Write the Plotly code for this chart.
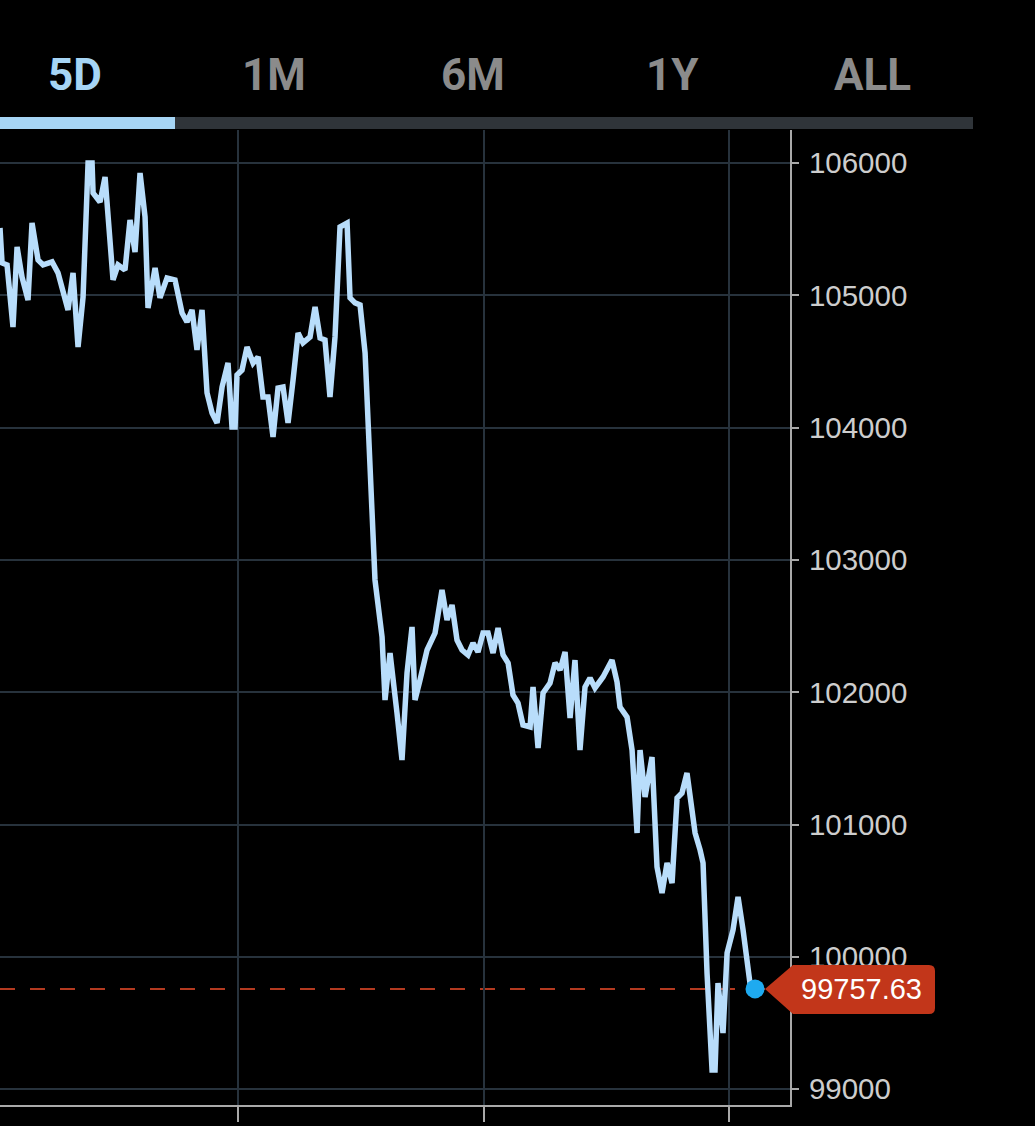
"""
5D price chart - dark theme line with last price tag
"""

import pandas as pd
import plotly.graph_objects as go

# hours after the session start (Jun 19 00:00) and traded price
hours = [
    0.73, 0.93, 1.42, 2.00, 2.40, 2.88, 3.47, 3.86, 4.45, 4.94,
    5.82, 6.40, 7.38, 7.87, 8.36, 8.85, 9.34, 9.73, 9.83, 10.51,
    11.00, 11.78, 12.27, 12.95, 13.44, 13.93, 14.42, 14.91, 15.20, 15.89,
    16.37, 17.06, 17.84, 18.53, 19.01, 19.50, 19.99, 20.48, 20.97, 21.46,
    21.95, 22.44, 23.02, 23.41, 23.71, 23.90, 24.39, 24.88, 25.47, 25.96,
    26.44, 26.93, 27.42, 27.91, 28.40, 28.89, 29.38, 29.87, 30.35, 31.04,
    31.53, 32.02, 32.50, 32.99, 33.48, 33.97, 34.66, 34.95, 35.44, 35.93,
    36.42, 36.71, 37.10, 37.39, 38.08, 38.37, 38.86, 39.15, 39.54, 40.03,
    40.52, 41.01, 41.30, 41.79, 42.48, 43.26, 43.94, 44.43, 44.92, 45.41,
    45.90, 46.48, 46.97, 47.46, 47.95, 48.44, 48.93, 49.42, 49.91, 50.40,
    50.88, 51.37, 51.86, 52.55, 52.84, 53.33, 53.82, 54.50, 54.99, 55.48,
    55.97, 56.46, 56.94, 57.43, 57.92, 58.41, 58.90, 59.68, 60.56, 61.05,
    61.34, 62.03, 62.52, 63.01, 63.30, 63.79, 64.47, 64.96, 65.45, 65.94,
    66.43, 66.92, 67.40, 67.89, 68.68, 69.17, 69.46, 69.85, 70.34, 70.63,
    70.92, 71.41, 71.81, 72.39, 72.88, 73.37, 74.05, 74.54,
]
prices = [
    105509, 105244, 105229, 104760, 105365, 105138, 104964, 105546, 105267, 105229,
    105252, 105169, 104889, 105169, 104609, 104987, 106000, 106000, 105773, 105705,
    105894, 105116, 105229, 105191, 105569, 105327, 105924, 105592, 104904, 105206,
    104980, 105131, 105116, 104866, 104798, 104889, 104587, 104889, 104262, 104110,
    104035, 104307, 104488, 104005, 104005, 104398, 104435, 104609, 104488, 104534,
    104231, 104231, 103929, 104299, 104307, 104035, 104360, 104715, 104640, 104685,
    104912, 104677, 104662, 104231, 104685, 105516, 105546, 104980, 104942, 104927,
    104564, 104057, 103302, 102848, 102417, 101941, 102296, 102069, 101843, 101487,
    102145, 102493, 101941, 102092, 102319, 102447, 102772, 102546, 102659, 102394,
    102319, 102281, 102372, 102304, 102447, 102447, 102296, 102485, 102281, 102221,
    101979, 101918, 101752, 101737, 102039, 101578, 101994, 102069, 102221, 102168,
    102304, 101805, 102243, 101563, 102039, 102107, 102032, 102115, 102243, 102077,
    101888, 101812, 101563, 100936, 101563, 101208, 101510, 100679, 100482, 100709,
    100558, 101200, 101238, 101389, 100936, 100807, 100709, 99877, 99144, 99144,
    99802, 99424, 100029, 100203, 100452, 100203, 99800, 99757.63,
]

y_ticks = [99000, 100000, 101000, 102000, 103000, 104000, 105000, 106000]
tabs = ["5D", "1M", "6M", "1Y", "ALL"]
active_tab = "5D"

START = pd.Timestamp("2025-06-19 00:00")
times = START + pd.to_timedelta(hours, unit="h")
last_t, last_p = times[-1], prices[-1]

Y_RANGE = [98880, 106249]
LINE = "#b8ddfb"
GRID = "#27323c"
AXIS = "#a9a9a9"
TAG = "#c2361a"
FONT = "Liberation Sans, Arial, sans-serif"

fig = go.Figure()

fig.add_trace(go.Scatter(
    x=times, y=prices, mode="lines",
    line=dict(color=LINE, width=5.5),
    hoverinfo="skip", showlegend=False,
))
fig.add_trace(go.Scatter(
    x=[last_t], y=[last_p], mode="markers",
    marker=dict(color="#1eaaf0", size=19),
    hoverinfo="skip", showlegend=False,
))

# dashed reference at the last price
fig.add_shape(type="line", xref="paper", x0=0, x1=1, yref="y", y0=last_p, y1=last_p,
              line=dict(color="#b43a20", width=2, dash="15px,15px"), layer="below")

# price tag (pointer + rounded box), pixel offsets from the right edge of the plot
last_frac = (last_p - Y_RANGE[0]) / (Y_RANGE[1] - Y_RANGE[0])
tag_path = ("M -25 0 L 3 24 L 139 24 Q 145 24 145 18 L 145 -19 Q 145 -25 139 -25 "
            "L 3 -25 Z")
fig.add_shape(type="path", path=tag_path,
              xref="paper", xsizemode="pixel", xanchor=1,
              yref="paper", ysizemode="pixel", yanchor=last_frac,
              fillcolor=TAG, line=dict(width=0), layer="above")
fig.add_annotation(x=last_t, y=last_p, xref="x", yref="y", text=f"{last_p:.2f}",
                   showarrow=False, xshift=106, yshift=0,
                   font=dict(family=FONT, size=29, color="white"))

# range tabs above the chart
tab_centers = [75, 274, 473, 672, 872]
for label, cx in zip(tabs, tab_centers):
    fig.add_annotation(
        x=cx / 790, y=(1105 - 75) / 975, xref="paper", yref="paper",
        text=f"<b>{label}</b>", showarrow=False, xanchor="center", yanchor="middle",
        font=dict(family="Roboto, sans-serif", size=44,
                  color="#a6d5f5" if label == active_tab else "#8b8b8b"),
    )
bar_y0, bar_y1 = (1105 - 129) / 975, (1105 - 117) / 975
fig.add_shape(type="rect", xref="paper", yref="paper", x0=175 / 790, x1=973 / 790,
              y0=bar_y0, y1=bar_y1, fillcolor="#2f3439", line=dict(width=0))
fig.add_shape(type="rect", xref="paper", yref="paper", x0=-0.01, x1=175 / 790,
              y0=bar_y0, y1=bar_y1, fillcolor="#a6d5f5", line=dict(width=0))

fig.update_layout(
    width=1035, height=1126,
    paper_bgcolor="black", plot_bgcolor="black",
    margin=dict(l=0, r=245, t=130, b=21),
    hovermode=False,
    xaxis=dict(
        type="date",
        range=[START + pd.Timedelta(hours=0.73), START + pd.Timedelta(hours=77.96)],
        tick0=START, dtick=86400000,
        showgrid=True, gridcolor=GRID, gridwidth=2,
        showline=True, linecolor=AXIS, linewidth=2,
        ticks="outside", ticklen=15, tickcolor=AXIS, tickwidth=2,
        showticklabels=False, zeroline=False,
    ),
    yaxis=dict(
        side="right", range=Y_RANGE,
        tickvals=y_ticks, ticktext=[str(v) for v in y_ticks],
        showgrid=True, gridcolor=GRID, gridwidth=2,
        showline=True, linecolor=AXIS, linewidth=2,
        ticks="outside", ticklen=7, tickcolor=AXIS, tickwidth=2,
        ticklabelstandoff=4,
        tickfont=dict(family=FONT, size=29.5, color="#cdcdcd"),
        zeroline=False,
    ),
)

# drop the default page margin so the figure sits flush in the window
fig.write_html("out.html",
               config={"displayModeBar": False},
               post_script="document.body.style.margin='0';"
                           "document.body.style.background='black';")
